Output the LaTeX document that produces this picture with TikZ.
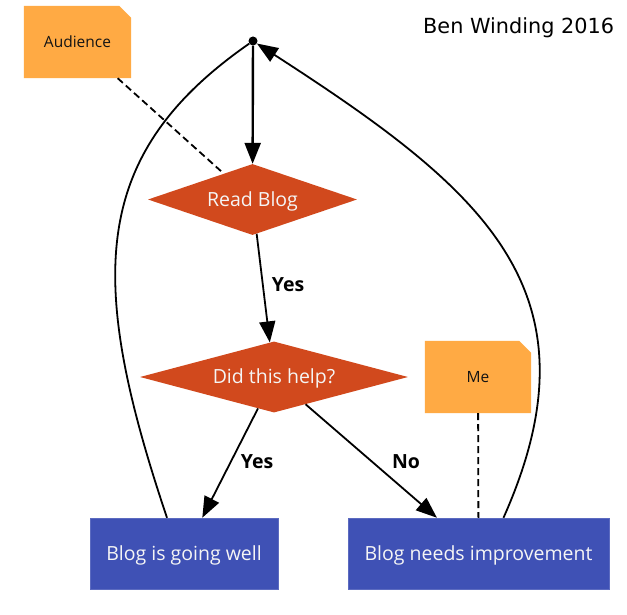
\documentclass[tikz,border=0pt]{standalone}
\usepackage{fontspec}
\setmainfont{Open Sans}
\newfontfamily\titlefont{DejaVu Sans}
\usetikzlibrary{shapes.geometric,arrows.meta,calc}
\pgfdeclarelayer{background}
\pgfsetlayers{background,main}
\definecolor{noteor}{HTML}{FFAA44}
\definecolor{decor}{HTML}{D1491D}
\definecolor{boxblue}{HTML}{3F51B5}
\definecolor{boxline}{HTML}{5C6BC0}
\definecolor{lighttext}{HTML}{F5F5F5}
\definecolor{notetext}{HTML}{141414}
\begin{document}
\begin{tikzpicture}[x=1pt,y=-1pt,
  decision/.style={diamond, fill=decor, inner sep=0pt, aspect=3.6, minimum width=#1, minimum height=71pt,
    text=lighttext, font=\fontsize{19.5}{23}\selectfont, text height=13.9pt, text depth=0pt},
  notebox/.style={rectangle, inner sep=0pt, minimum width=107pt, minimum height=72pt,
    text=notetext, font=\fontsize{15.5}{18}\selectfont, text height=11.1pt, text depth=0pt},
  procbox/.style={rectangle, fill=boxblue, draw=boxline, line width=1pt, inner sep=0pt,
    minimum width=#1, minimum height=71pt,
    text=lighttext, font=\fontsize{19.5}{23}\selectfont, text height=13.9pt, text depth=0pt},
  lbl/.style={inner sep=0pt, font=\bfseries\fontsize{19.5}{23}\selectfont, text height=13.9pt, text depth=0pt},
  tip/.style={-{Triangle[length=21pt,width=16pt]}},
  arr/.style={tip, line width=1.8pt},
  curve/.style={line width=1.8pt},
  dashline/.style={line width=1.8pt, dash pattern=on 7pt off 4pt},
]
\useasboundingbox (0,0) rectangle (627,615);

\node[circle, fill=black, inner sep=0pt, minimum size=9pt] (dot) at (253,41) {};
\node[notebox] (aud) at (77.5,42) {Audience};
\node[notebox, minimum width=106pt] (me) at (478,377) {Me};
\node[decision=209pt] (rb) at (252.5,199.5) {Read Blog};
\node[decision=268pt] (dh) at (274,377) {Did this help?};
\node[procbox=188pt] (gw) at (184,553.75) {Blog is going well};
\node[procbox=261pt] (ni) at (478.5,553.75) {Blog needs improvement};
\node[anchor=base west, inner sep=0pt, font=\titlefont\fontsize{20.8}{24}\selectfont] (title) at (423,33.5) {Ben Winding 2016};

\begin{pgfonlayer}{background}
\fill[white] (0,0) rectangle (627,615);
\foreach \n in {aud,me}
  \fill[noteor] (\n.south west) -- (\n.north west) -- ([xshift=-12pt]\n.north east)
    -- ([yshift=-12pt]\n.north east) -- (\n.south east) -- cycle;
\end{pgfonlayer}

\draw[tip, line width=2.4pt] (dot) -- (rb);
\draw[arr] (rb) -- (dh);
\draw[arr] (dh) -- (gw);
\draw[arr] (dh) -- (ni);
\draw[dashline] (aud) -- (rb);
\draw[dashline] (me) -- (ni);
\draw[curve] ([xshift=-17pt]gw.north) .. controls (87,280) and (89,155) .. (dot);
\draw[curve, tip] ([xshift=25pt]ni.north) .. controls (605,290) and (482,189) .. (dot);

\node[lbl] (l1) at (288,285) {Yes};
\node[lbl] (l2) at (257,462) {Yes};
\node[lbl] (l3) at (406,462) {No};
\end{tikzpicture}
\end{document}
